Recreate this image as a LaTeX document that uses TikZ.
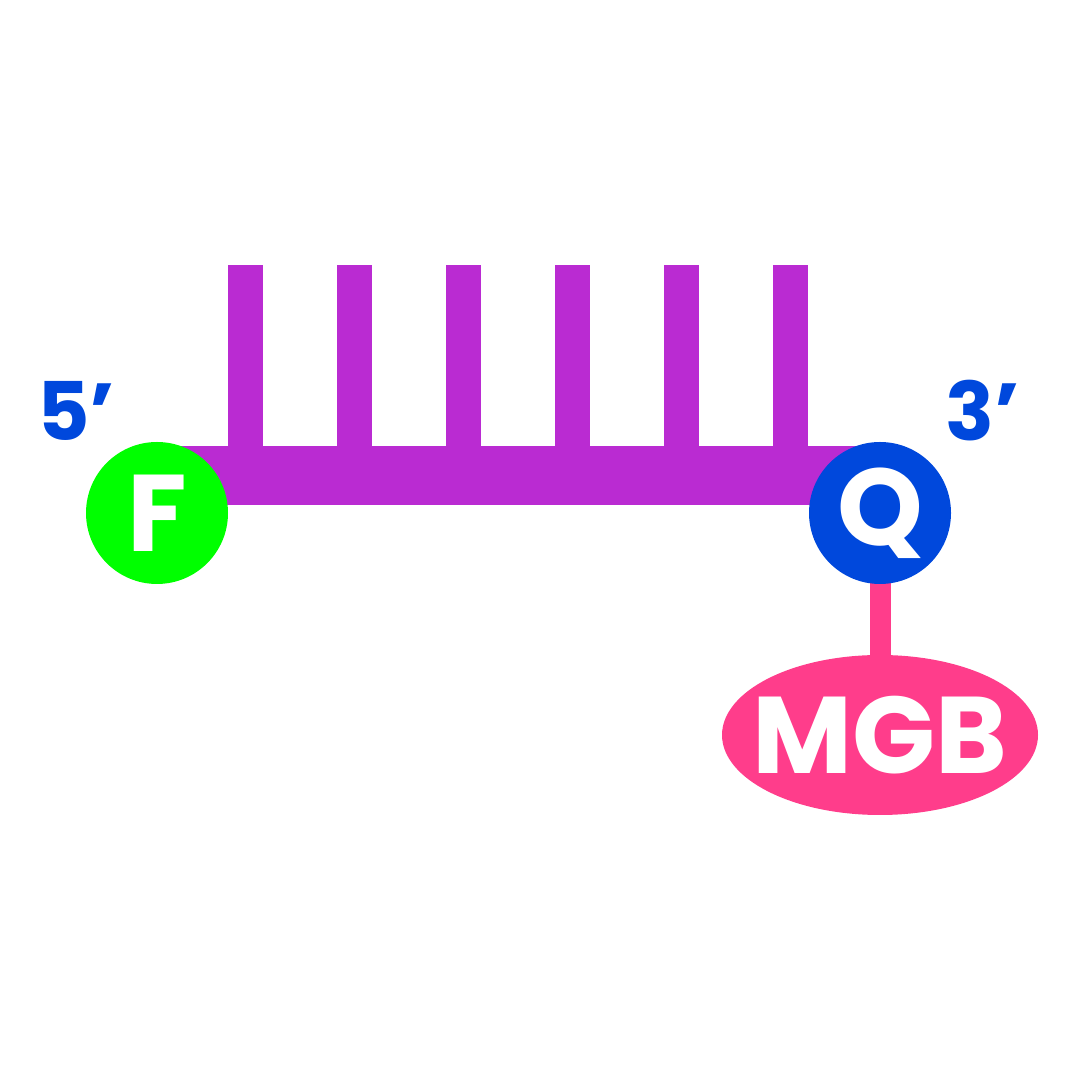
\documentclass[tikz,border=0pt]{standalone}
\usepackage{fontspec}
\setmainfont{Poppins}
\usetikzlibrary{positioning,shapes.geometric,backgrounds}
\definecolor{PrbPurple}{RGB}{186,43,210}
\definecolor{PrbGreen}{RGB}{0,255,0}
\definecolor{PrbBlue}{RGB}{0,72,220}
\definecolor{PrbPink}{RGB}{255,61,139}
\tikzset{
  prb/dye/.style={
    circle,
    fill=PrbGreen,
    minimum size=1.42cm,
    inner sep=0pt,
    text=white,
    font=\fontsize{31}{31}\selectfont\bfseries
  },
  prb/quencher/.style={
    prb/dye,
    fill=PrbBlue
  },
  prb/mgb/.style={
    ellipse,
    fill=PrbPink,
    minimum width=3.16cm,
    minimum height=1.6cm,
    inner xsep=-0.2cm,
    inner ysep=0pt,
    text=white,
    font=\fontsize{31}{31}\selectfont\bfseries
  },
  prb/end/.style={font=\fontsize{23}{23}\selectfont\bfseries, text=PrbBlue},
  prb/link/.style={draw=PrbPink, line width=0.21cm},
  prb/bar/.style={fill=PrbPurple}
}
\begin{document}
\begin{tikzpicture}[x=1cm,y=1cm]
  \useasboundingbox (0,0) rectangle (10.8,10.8);
  \node[prb/dye] (F) at (1.57,5.67) {F};
  \node[prb/quencher] (Q) at (8.80,5.67) {Q};
  \node[prb/mgb] (MGB) at (8.80,3.45) {MGB};
  \node[prb/end] (five) at (0.76,6.69) {5’};
  \node[prb/end] (three) at (9.83,6.69) {3’};
  \begin{scope}[on background layer]
    \fill[prb/bar] (F.center |- 0,6.34) rectangle (Q.center |- 0,5.75);
    \foreach \i in {0,...,5}{\fill[prb/bar] (2.28+1.09*\i,6.30) rectangle ++(0.35,1.85);}
    \draw[prb/link] (Q.center) -- (MGB.center);
  \end{scope}
\end{tikzpicture}
\end{document}
